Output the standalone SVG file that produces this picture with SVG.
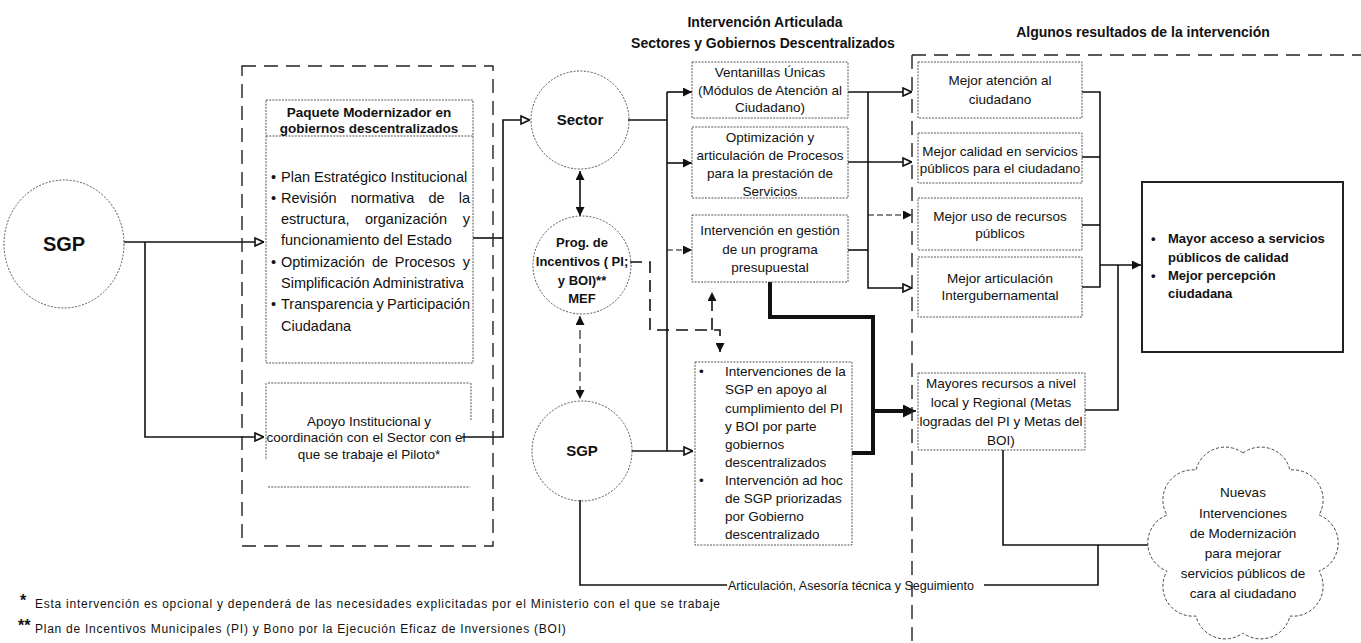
<svg xmlns="http://www.w3.org/2000/svg" width="1361" height="643" viewBox="0 0 1361 643">
  <defs>
    <marker id="arr" viewBox="0 0 10 10" refX="10" refY="5" markerWidth="9" markerHeight="9" markerUnits="userSpaceOnUse" orient="auto-start-reverse">
      <path d="M0,0 L10,5 L0,10 z" fill="#111"/>
    </marker>
    <marker id="arrOpen" viewBox="0 0 10 10" refX="10" refY="5" markerWidth="10" markerHeight="10" markerUnits="userSpaceOnUse" orient="auto">
      <path d="M1,1 L9.5,5 L1,9 z" fill="#fff" stroke="#111" stroke-width="1.6"/>
    </marker>
    <marker id="arrBig" viewBox="0 0 10 10" refX="10" refY="5" markerWidth="13" markerHeight="13" markerUnits="userSpaceOnUse" orient="auto">
      <path d="M0,0 L10,5 L0,10 z" fill="#111"/>
    </marker>
    <style>
      text { font-family: "Liberation Sans", Arial, sans-serif; fill: #111; }
      .title { font-size: 14px; font-weight: bold; text-anchor: middle; }
      .box { fill: none; stroke: #555; stroke-width: 1; stroke-dasharray: 2 1.2; }
      .circ { fill: none; stroke: #555; stroke-width: 1; stroke-dasharray: 2 1.5; }
      .outer { fill: none; stroke: #222; stroke-width: 1.4; stroke-dasharray: 14 8; }
      .t { font-size: 13.5px; }
      .tc { font-size: 13.5px; text-anchor: middle; }
      .tb { font-size: 13.5px; font-weight: bold; }
      .p { font-size: 14.5px; }
      .pc { font-size: 14.5px; text-anchor: middle; }
      .pe { font-size: 14.5px; text-anchor: end; }
      .lbl { font-size: 14px; font-weight: bold; text-anchor: middle; }
      .ln { fill: none; stroke: #111; stroke-width: 1.6; }
      .thin { fill: none; stroke: #111; stroke-width: 1.1; }
      .thind { fill: none; stroke: #111; stroke-width: 1.1; stroke-dasharray: 6 3; }
      .thick { fill: none; stroke: #111; stroke-width: 4; }
      .dash { fill: none; stroke: #111; stroke-width: 1.6; stroke-dasharray: 12 7; }
      .foot { font-size: 12px; letter-spacing: 0.75px; }
    </style>
  </defs>

  <!-- headings -->
  <text class="title" x="765" y="27">Intervención Articulada</text>
  <text class="title" x="763" y="48">Sectores y Gobiernos Descentralizados</text>
  <text class="title" x="1143" y="37">Algunos resultados de la intervención</text>

  <!-- connectors -->
  <g id="connectors">
    <!-- SGP to the modernization package -->
    <path class="ln" d="M124,242 H264" marker-end="url(#arrOpen)"/>
    <path class="ln" d="M145,242 V437 H264" marker-end="url(#arrOpen)"/>
    <!-- package to Sector -->
    <path class="ln" d="M473,238 H503"/>
    <path class="ln" d="M462,437 H503 V120 H530" marker-end="url(#arrOpen)"/>
    <!-- Sector bus -->
    <path class="ln" d="M628,120 H667"/>
    <path class="ln" d="M667,92 V451"/>
    <path class="ln" d="M667,92 H692" marker-end="url(#arr)"/>
    <path class="ln" d="M667,163 H692" marker-end="url(#arr)"/>
    <path class="thind" d="M667,250 H692" marker-end="url(#arr)"/>
    <path class="ln" d="M632,451 H693" marker-end="url(#arrOpen)"/>
    <!-- circle links -->
    <path class="ln" d="M580,171 V216" marker-start="url(#arr)" marker-end="url(#arr)"/>
    <path class="thin" d="M580,316 V399" stroke-dasharray="9 5" marker-start="url(#arr)" marker-end="url(#arr)"/>
    <!-- incentive program dashed links -->
    <path class="dash" d="M630,262 H650 V330 H720 V352" marker-end="url(#arr)"/>
    <path class="dash" d="M712,330 V292" marker-end="url(#arr)"/>
    <!-- interventions to results -->
    <path class="ln" d="M848,92 H912" marker-end="url(#arrOpen)"/>
    <path class="ln" d="M848,162 H912" marker-end="url(#arrOpen)"/>
    <path class="ln" d="M848,250 H868"/>
    <path class="ln" d="M868,92 V288 H912" marker-end="url(#arrOpen)"/>
    <path class="thind" d="M868,215 H912" marker-end="url(#arr)"/>
    <path class="thick" d="M770,282 V317 H873 V453 H852"/>
    <path class="thick" d="M873,411 H904"/>
    <path class="ln" d="M900,411 H916" marker-end="url(#arrBig)"/>
    <!-- results to final outcome -->
    <path class="ln" d="M1082,92 H1100 V287 H1082"/>
    <path class="ln" d="M1082,157 H1100"/>
    <path class="ln" d="M1082,225 H1100"/>
    <path class="ln" d="M1100,265 H1141" marker-end="url(#arr)"/>
    <path class="ln" d="M1085,410 H1118 V265"/>
    <!-- resources to new interventions -->
    <path class="ln" d="M1003,450 V545 H1162" marker-end="url(#arrBig)"/>
    <!-- articulation line -->
    <path class="ln" d="M580,500 V585 H727"/>
    <path class="ln" d="M984,585 H1098 V545"/>
    <text x="728" y="590" style="font-size:12.5px">Articulación, Asesoría técnica y Seguimiento</text>
  </g>

  <!-- left SGP -->
  <g id="sgp-main">
    <ellipse class="circ" cx="64" cy="244" rx="60" ry="64"/>
    <text x="64" y="251" style="font-size:20px;font-weight:bold;text-anchor:middle">SGP</text>
  </g>

  <!-- modernization package -->
  <g id="package">
    <rect class="outer" x="242" y="66" width="251" height="480"/>
    <rect class="box" x="266" y="100" width="207" height="263"/>
    <line class="box" x1="266" y1="136" x2="473" y2="136"/>
    <text class="tb" x="369" y="117" text-anchor="middle">Paquete Modernizador en</text>
    <text class="tb" x="369" y="133" text-anchor="middle">gobiernos descentralizados</text>
    <text class="p" x="271" y="182">•</text>
    <text class="p" x="281" y="182">Plan Estratégico Institucional</text>
    <text class="p" x="271" y="203">•</text>
    <text class="p" x="281" y="203">Revisión</text>
    <text class="pc" x="382.5" y="203">normativa</text>
    <text class="pc" x="436.5" y="203">de</text>
    <text class="pe" x="470" y="203">la</text>
    <text class="p" x="281" y="224">estructura,</text>
    <text class="pc" x="406" y="224">organización</text>
    <text class="pe" x="470" y="224">y</text>
    <text class="p" x="281" y="245">funcionamiento del Estado</text>
    <text class="p" x="271" y="267">•</text>
    <text class="p" x="281" y="267">Optimización</text>
    <text class="pc" x="380" y="267">de</text>
    <text class="pc" x="425" y="267">Procesos</text>
    <text class="pe" x="470" y="267">y</text>
    <text class="p" x="281" y="288">Simplificación Administrativa</text>
    <text class="p" x="271" y="309">•</text>
    <text class="p" x="281" y="309">Transparencia</text>
    <text class="pc" x="380" y="309">y</text>
    <text class="pe" x="470" y="309">Participación</text>
    <text class="p" x="281" y="331">Ciudadana</text>
  </g>

  <g id="support">
    <path class="box" d="M268,383 H470 M268,487 H470 M266,383 V460 M471,383 V420" stroke-dasharray="26 24"/>
    <text class="tc" x="369" y="426">Apoyo Institucional y</text>
    <text class="tc" x="366" y="442">coordinación con el Sector con el</text>
    <text class="tc" x="369" y="459">que se trabaje el Piloto*</text>
  </g>

  <!-- circles -->
  <g id="sector">
    <circle class="circ" cx="580" cy="120" r="49"/>
    <text class="lbl" x="580" y="125" style="font-size:15px">Sector</text>
  </g>
  <g id="incentivos">
    <circle class="circ" cx="582" cy="265" r="49"/>
    <text class="lbl" x="582" y="247" style="font-size:13px">Prog. de</text>
    <text class="lbl" x="582" y="266" style="font-size:13px">Incentivos ( PI;</text>
    <text class="lbl" x="582" y="285" style="font-size:13px">y BOI)**</text>
    <text class="lbl" x="582" y="303" style="font-size:13px">MEF</text>
  </g>
  <g id="sgp-mid">
    <circle class="circ" cx="582" cy="451" r="50"/>
    <text class="lbl" x="582" y="456" style="font-size:15px">SGP</text>
  </g>

  <!-- intervention boxes -->
  <g id="ventanillas">
    <rect class="box" x="692" y="62" width="156" height="56"/>
    <text class="tc" x="770" y="77">Ventanillas Únicas</text>
    <text class="tc" x="770" y="95">(Módulos de Atención al</text>
    <text class="tc" x="770" y="112">Ciudadano)</text>
  </g>
  <g id="optimizacion">
    <rect class="box" x="692" y="127" width="156" height="71"/>
    <text class="tc" x="770" y="142">Optimización y</text>
    <text class="tc" x="770" y="160">articulación de Procesos</text>
    <text class="tc" x="770" y="178">para la prestación de</text>
    <text class="tc" x="770" y="196">Servicios</text>
  </g>
  <g id="programa">
    <rect class="box" x="692" y="215" width="156" height="67"/>
    <text class="tc" x="770" y="235">Intervención en gestión</text>
    <text class="tc" x="770" y="254">de un programa</text>
    <text class="tc" x="770" y="272">presupuestal</text>
  </g>
  <g id="apoyo-sgp">
    <rect class="box" x="695" y="362" width="157" height="183"/>
    <text class="t" x="699" y="376">•</text>
    <text class="t" x="699" y="485">•</text>
    <text class="t" x="725" y="376">Intervenciones de la</text>
    <text class="t" x="725" y="394">SGP en apoyo al</text>
    <text class="t" x="725" y="413">cumplimiento del PI</text>
    <text class="t" x="725" y="431">y BOI por parte</text>
    <text class="t" x="725" y="449">gobiernos</text>
    <text class="t" x="725" y="467">descentralizados</text>
    <text class="t" x="725" y="485">Intervención ad hoc</text>
    <text class="t" x="725" y="503">de SGP priorizadas</text>
    <text class="t" x="725" y="521">por Gobierno</text>
    <text class="t" x="725" y="539">descentralizado</text>
  </g>

  <!-- results area -->
  <path class="outer" d="M912,55 V643 M912,55 H1361"/>
  <g id="r-atencion">
    <rect class="box" x="918" y="62" width="164" height="56"/>
    <text class="tc" x="1000" y="85">Mejor atención al</text>
    <text class="tc" x="1000" y="104">ciudadano</text>
  </g>
  <g id="r-calidad">
    <rect class="box" x="918" y="133" width="164" height="50"/>
    <text class="tc" x="1000" y="156">Mejor calidad en servicios</text>
    <text class="tc" x="1000" y="173">públicos para el ciudadano</text>
  </g>
  <g id="r-recursos">
    <rect class="box" x="918" y="198" width="164" height="52"/>
    <text class="tc" x="1000" y="221">Mejor uso de recursos</text>
    <text class="tc" x="1000" y="238">públicos</text>
  </g>
  <g id="r-articulacion">
    <rect class="box" x="918" y="257" width="164" height="60"/>
    <text class="tc" x="1000" y="283">Mejor articulación</text>
    <text class="tc" x="1000" y="300">Intergubernamental</text>
  </g>
  <g id="r-mayores">
    <rect class="box" x="918" y="373" width="167" height="77"/>
    <text class="tc" x="1001" y="388">Mayores recursos a nivel</text>
    <text class="tc" x="1001" y="407">local y Regional (Metas</text>
    <text class="tc" x="1001" y="426">logradas del PI y Metas del</text>
    <text class="tc" x="1001" y="445">BOI)</text>
  </g>

  <g id="outcome">
    <rect x="1142" y="182" width="201" height="170" fill="none" stroke="#222" stroke-width="2"/>
    <text class="tb" x="1151" y="243" style="font-size:13px">•</text>
    <text class="tb" x="1168" y="243" style="font-size:13px">Mayor acceso a servicios</text>
    <text class="tb" x="1168" y="262" style="font-size:13px">públicos de calidad</text>
    <text class="tb" x="1151" y="280" style="font-size:13px">•</text>
    <text class="tb" x="1168" y="280" style="font-size:13px">Mejor percepción</text>
    <text class="tb" x="1168" y="298" style="font-size:13px">ciudadana</text>
  </g>

  <g id="nuevas">
    <path d="M1243,453 A30,30 0 0 1 1290,470 A30,30 0 0 1 1319,515 A30,30 0 0 1 1319,571 A30,30 0 0 1 1290,616 A30,30 0 0 1 1243,633 A30,30 0 0 1 1196,616 A30,30 0 0 1 1167,571 A30,30 0 0 1 1167,515 A30,30 0 0 1 1196,470 A30,30 0 0 1 1243,453 z" fill="#fff" stroke="#444" stroke-width="1" stroke-dasharray="3 2"/>
    <text class="tc" x="1243" y="497">Nuevas</text>
    <text class="tc" x="1243" y="518">Intervenciones</text>
    <text class="tc" x="1243" y="538">de Modernización</text>
    <text class="tc" x="1243" y="558">para mejorar</text>
    <text class="tc" x="1243" y="578">servicios públicos de</text>
    <text class="tc" x="1243" y="598">cara al ciudadano</text>
  </g>

  <!-- footnotes -->
  <g id="notes">
    <text x="20" y="606" style="font-size:16px;font-weight:bold">*</text>
    <text class="foot" x="35" y="608">Esta intervención es opcional y dependerá de las necesidades explicitadas por el Ministerio con el que se trabaje</text>
    <text x="18" y="631" style="font-size:16px;font-weight:bold">**</text>
    <text class="foot" x="35" y="633">Plan de Incentivos Municipales (PI) y Bono por la Ejecución Eficaz de Inversiones (BOI)</text>
  </g>
</svg>
